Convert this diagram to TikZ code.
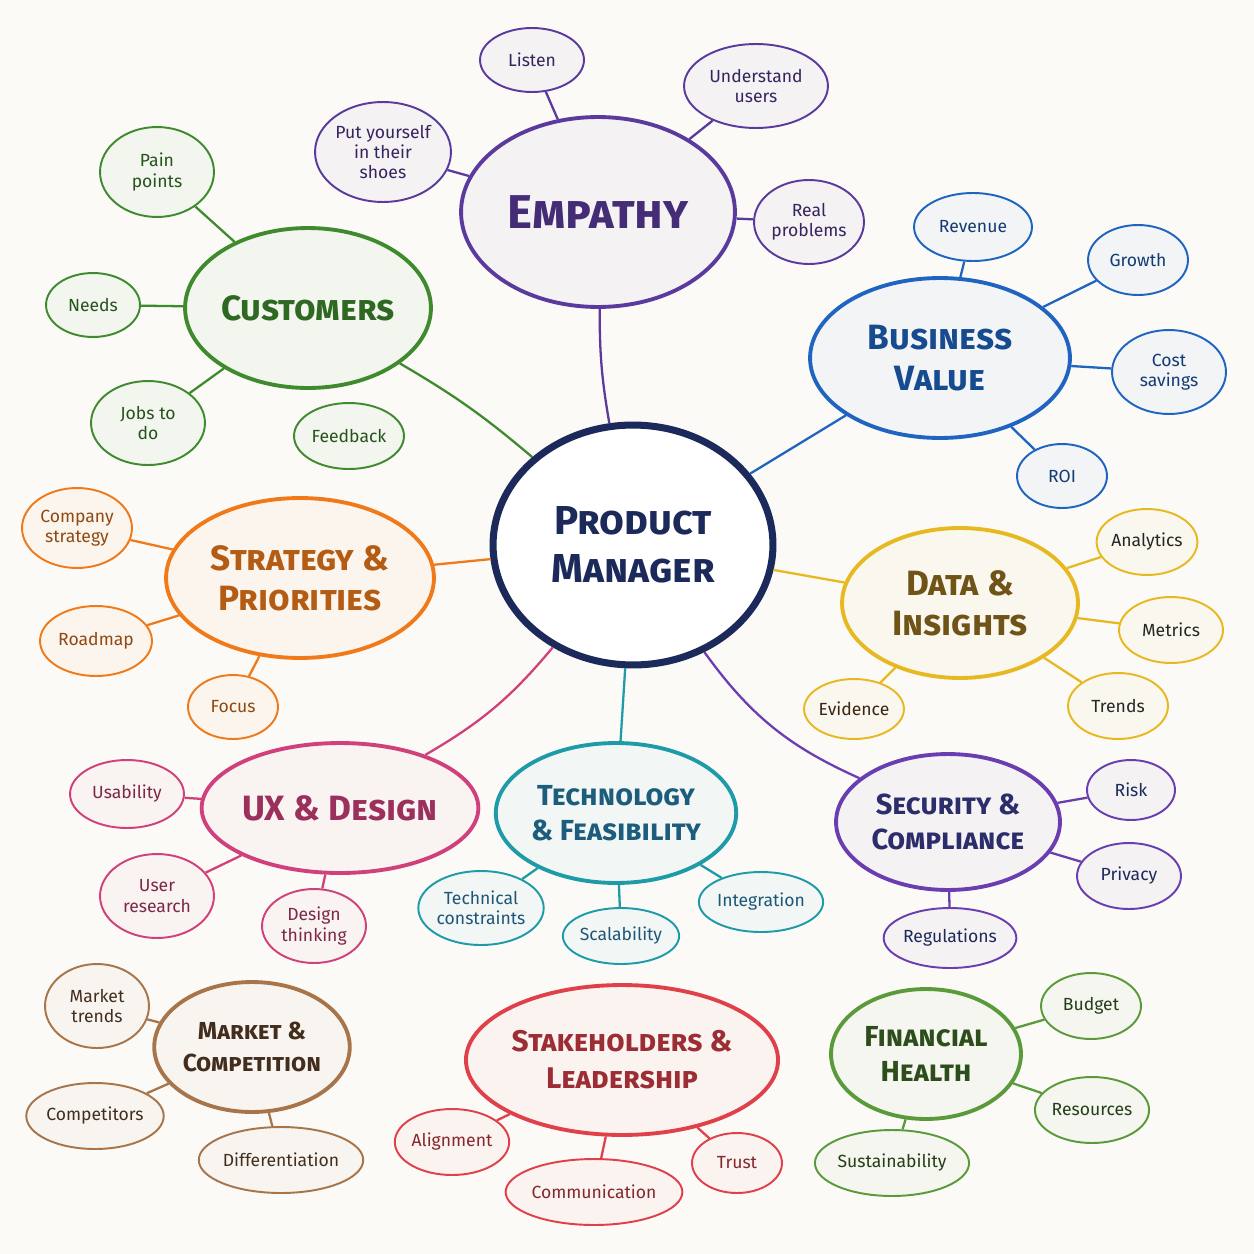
\documentclass[tikz,border=0pt]{standalone}
\usepackage{fontspec}
\setmainfont{Fira Sans}
\usetikzlibrary{shapes.geometric}
\definecolor{bg}{HTML}{FBFAF7}
\definecolor{navy}{HTML}{1B2A5A}
\definecolor{emp}{HTML}{5B3A9E}
\definecolor{cus}{HTML}{3F8A2E}
\definecolor{biz}{HTML}{1E64C0}
\definecolor{str}{HTML}{F07A1A}
\definecolor{dat}{HTML}{E8B820}
\definecolor{uxd}{HTML}{D0407A}
\definecolor{tec}{HTML}{1E9AA8}
\definecolor{sec}{HTML}{6A3DB0}
\definecolor{mar}{HTML}{A8744A}
\definecolor{stk}{HTML}{E0404A}
\definecolor{fin}{HTML}{5A9A3A}
\tikzset{
 x=0.02cm,y=-0.02cm,
 el/.style n args={3}{ellipse,inner sep=0pt,minimum width=#2*0.04cm,minimum height=#3*0.04cm,align=center,draw=#1,fill=#1!4!bg},
 main/.style n args={3}{el={#1}{#2}{#3},line width=2.2pt,text=#1!75!black,font=\fontsize{20}{23}\selectfont\bfseries\scshape},
 leaf/.style n args={3}{el={#1}{#2}{#3},line width=1.1pt,text=#1!60!black,font=\fontsize{10}{11.5}\selectfont},
 ln/.style={draw=#1,line width=1.3pt},
}
\begin{document}
\begin{tikzpicture}
\fill[bg] (0,0) rectangle (1254,1254);
\useasboundingbox (0,0) rectangle (1254,1254);
% center
\node[el={navy}{140}{120},line width=4pt,fill=white,text=navy,font=\fontsize{23}{27}\selectfont\bfseries\scshape] (pm) at (633,545) {Product\\Manager};
% Empathy
\node[main={emp}{137}{95}] (emp) at (598,212) {\fontsize{27}{27}\selectfont Empathy};
\node[leaf={emp}{52}{32}] (e1) at (532,60) {Listen};
\node[leaf={emp}{72}{42}] (e2) at (756,86) {Understand\\users};
\node[leaf={emp}{68}{50}] (e3) at (383,152) {Put yourself\\in their\\shoes};
\node[leaf={emp}{55}{42}] (e4) at (809,222) {Real\\problems};
% Customers
\node[main={cus}{122}{80}] (cus) at (308,308) {Customers};
\node[leaf={cus}{57}{45}] (c1) at (157,172) {Pain\\points};
\node[leaf={cus}{47}{32}] (c2) at (93,305) {Needs};
\node[leaf={cus}{57}{42}] (c3) at (148,423) {Jobs to\\do};
\node[leaf={cus}{55}{33}] (c4) at (349,436) {Feedback};
% Business
\node[main={biz}{130}{80}] (biz) at (940,358) {Business\\Value};
\node[leaf={biz}{59}{34}] (b1) at (973,227) {Revenue};
\node[leaf={biz}{50}{35}] (b2) at (1138,260) {Growth};
\node[leaf={biz}{57}{42}] (b3) at (1169,372) {Cost\\savings};
\node[leaf={biz}{45}{32}] (b4) at (1062,476) {ROI};
% Strategy
\node[main={str}{134}{80}] (str) at (300,578) {Strategy \&\\Priorities};
\node[leaf={str}{55}{40}] (s1) at (77,528) {Company\\strategy};
\node[leaf={str}{56}{35}] (s2) at (96,641) {Roadmap};
\node[leaf={str}{45}{32}] (s3) at (233,707) {Focus};
% Data
\node[main={dat}{118}{75},text=dat!40!black!80!brown] (dat) at (960,603) {Data \&\\Insights};
\node[leaf={dat}{50}{33},text=black!85] (d1) at (1147,542) {Analytics};
\node[leaf={dat}{52}{33},text=black!85] (d2) at (1171,630) {Metrics};
\node[leaf={dat}{50}{33},text=black!85] (d3) at (1118,706) {Trends};
\node[leaf={dat}{48}{30},text=black!70!brown] (d4) at (854,709) {Evidence};
% UX
\node[main={uxd}{120}{65}] (uxd) at (340,808) {UX \& Design};
\node[leaf={uxd}{57}{34}] (u1) at (127,794) {Usability};
\node[leaf={uxd}{57}{42}] (u2) at (157,896) {User\\research};
\node[leaf={uxd}{52}{37}] (u3) at (314,926) {Design\\thinking};
% Tech
\node[main={tec}{110}{70},font=\fontsize{16.5}{20}\selectfont\bfseries\scshape,text=tec!45!navy] (tec) at (616,813) {Technology\\\& Feasibility};
\node[leaf={tec}{58}{37},text=tec!40!navy] (t1) at (481,908) {Technical\\constraints};
\node[leaf={tec}{52}{28},text=tec!40!navy] (t2) at (621,936) {Scalability};
\node[leaf={tec}{55}{30},text=tec!40!navy] (t3) at (761,902) {Integration};
% Security
\node[main={sec}{112}{68},font=\fontsize{16.5}{20}\selectfont\bfseries\scshape,text=navy!80!sec] (sec) at (948,822) {Security \&\\Compliance};
\node[leaf={sec}{44}{30},text=navy] (y1) at (1131,790) {Risk};
\node[leaf={sec}{52}{33},text=navy] (y2) at (1129,876) {Privacy};
\node[leaf={sec}{63}{30},text=navy] (y3) at (950,938) {Regulations};
% Market
\node[main={mar}{95}{65},font=\fontsize{14}{18}\selectfont\bfseries\scshape,text=mar!40!black] (mar) at (252,1047) {Market \&\\Competition};
\node[leaf={mar}{52}{42},text=mar!40!black] (m1) at (97,1006) {Market\\trends};
\node[leaf={mar}{55}{33},text=mar!40!black] (m2) at (95,1116) {Competitors};
\node[leaf={mar}{67}{33},text=mar!40!black] (m3) at (281,1160) {Differentiation};
% Stakeholders
\node[main={stk}{133}{75},font=\fontsize{17}{21}\selectfont\bfseries\scshape,text=stk!70!black] (stk) at (622,1060) {Stakeholders \&\\Leadership};
\node[leaf={stk}{55}{33}] (k1) at (452,1142) {Alignment};
\node[leaf={stk}{69}{33}] (k2) at (594,1192) {Communication};
\node[leaf={stk}{45}{30}] (k3) at (737,1163) {Trust};
% Financial
\node[main={fin}{95}{65},font=\fontsize{16.5}{20}\selectfont\bfseries\scshape,text=fin!50!black] (fin) at (926,1054) {Financial\\Health};
\node[leaf={fin}{50}{33},text=fin!40!black] (f1) at (1091,1006) {Budget};
\node[leaf={fin}{57}{33},text=fin!40!black] (f2) at (1092,1110) {Resources};
\node[leaf={fin}{67}{33},text=fin!40!black] (f3) at (892,1163) {Sustainability};
% connectors
\draw[ln=emp] (pm) to[bend left=5] (emp);
\draw[ln=cus] (pm) to[bend right=5] (cus);
\draw[ln=biz] (pm) -- (biz);
\draw[ln=str] (pm) -- (str);
\draw[ln=dat] (pm) -- (dat);
\draw[ln=uxd] (pm) to[bend left=10] (uxd);
\draw[ln=tec] (pm) -- (tec);
\draw[ln=sec] (pm) to[bend right=15] (sec);
\foreach \a/\b/\c in {emp/e1/emp,emp/e2/emp,emp/e3/emp,emp/e4/emp,cus/c1/cus,cus/c2/cus,cus/c3/cus,
 biz/b1/biz,biz/b2/biz,biz/b3/biz,biz/b4/biz,str/s1/str,str/s2/str,str/s3/str,
 dat/d1/dat,dat/d2/dat,dat/d3/dat,dat/d4/dat,uxd/u1/uxd,uxd/u2/uxd,uxd/u3/uxd,
 tec/t1/tec,tec/t2/tec,tec/t3/tec,sec/y1/sec,sec/y2/sec,sec/y3/sec,
 mar/m1/mar,mar/m2/mar,mar/m3/mar,stk/k1/stk,stk/k2/stk,stk/k3/stk,fin/f1/fin,fin/f2/fin,fin/f3/fin}
 \draw[ln=\c] (\a) -- (\b);
\end{tikzpicture}
\end{document}
